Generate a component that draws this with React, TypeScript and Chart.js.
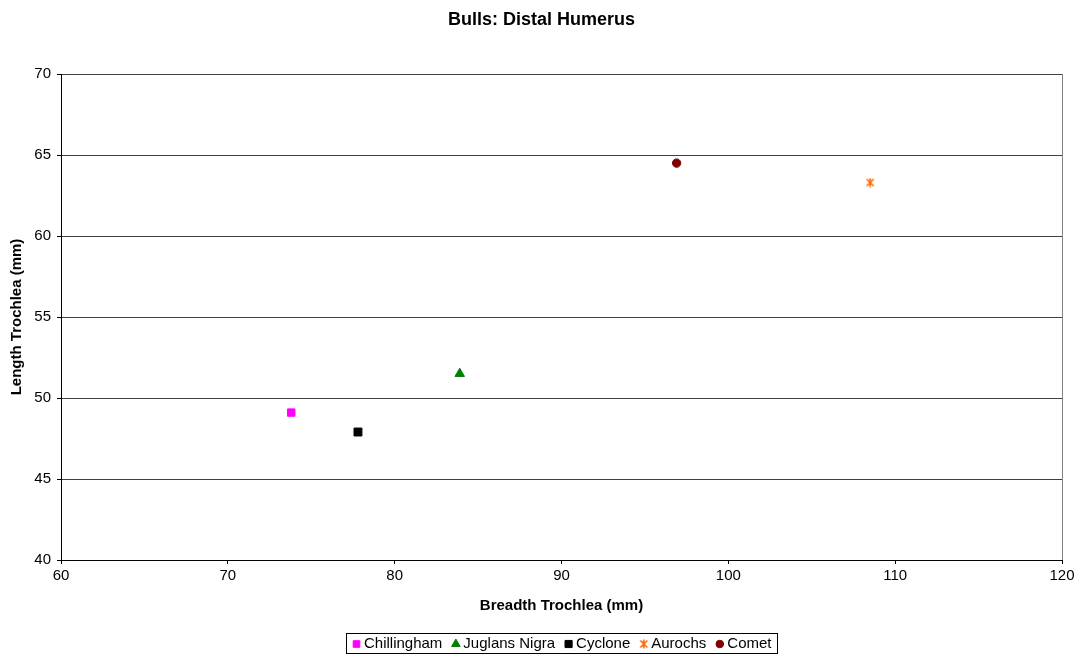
import React, { useEffect, useRef } from 'react';
import { Chart, registerables } from 'chart.js';
import { drawPoint } from 'chart.js/helpers';

Chart.register(...registerables);

const chartTitle = 'Bulls: Distal Humerus';
const xAxisTitle = 'Breadth Trochlea (mm)';
const yAxisTitle = 'Length Trochlea (mm)';
const seriesNames = ['Chillingham', 'Juglans Nigra', 'Cyclone', 'Aurochs', 'Comet'];
const breadthValues = [73.8, 83.9, 77.8, 108.5, 96.9];
const lengthValues = [49.1, 51.5, 47.9, 63.3, 64.5];
const seriesColors = ['#FF00FF', '#008000', '#000000', '#FF6600', '#800000'];
const xTickRange = { min: 60, max: 120, step: 10 };
const yTickRange = { min: 40, max: 70, step: 5 };

const FONT = '"Liberation Sans", Arial, sans-serif';

function makeStar(color: string): HTMLCanvasElement {
  const c = document.createElement('canvas');
  c.width = 10;
  c.height = 10;
  const g = c.getContext('2d')!;
  g.strokeStyle = color;
  g.lineWidth = 1.6;
  g.beginPath();
  g.moveTo(1.5, 1.5);
  g.lineTo(8.5, 8.5);
  g.moveTo(8.5, 1.5);
  g.lineTo(1.5, 8.5);
  g.moveTo(5, 0.5);
  g.lineTo(5, 9.5);
  g.stroke();
  return c;
}

export default function App() {
  const ref = useRef<HTMLCanvasElement | null>(null);

  useEffect(() => {
    if (!ref.current) return;
    const star = makeStar(seriesColors[3]);
    const styles: any[] = ['rect', 'triangle', 'rect', star, 'circle'];
    const radii = [5.2, 5.5, 5.6, 5, 4.2];

    const datasets = seriesNames.map((name, i) => ({
      label: name,
      data: [{ x: breadthValues[i], y: lengthValues[i] }],
      backgroundColor: seriesColors[i],
      borderColor: seriesColors[i],
      borderWidth: 1,
      pointStyle: styles[i],
      pointRadius: radii[i],
      showLine: false,
    }));

    const framePlugin = {
      id: 'frameTitleLegend',
      afterDraw(chart: any) {
        const { ctx, chartArea } = chart;
        ctx.save();
        // right border of plot area
        ctx.strokeStyle = '#808080';
        ctx.lineWidth = 1;
        ctx.beginPath();
        ctx.moveTo(Math.round(chartArea.right) + 0.5, Math.round(chartArea.top));
        ctx.lineTo(Math.round(chartArea.right) + 0.5, Math.round(chartArea.bottom));
        ctx.stroke();

        // chart title
        ctx.font = 'bold 18px ' + FONT;
        ctx.fillStyle = '#000';
        ctx.textAlign = 'center';
        ctx.textBaseline = 'middle';
        ctx.fillText(chartTitle, chart.width / 2, 20);

        // legend
        ctx.font = '15px ' + FONT;
        const markerW = 9;
        const gapText = 3;
        const gapItem = 9;
        const padX = 6;
        const widths = seriesNames.map((n) => ctx.measureText(n).width);
        let total = padX * 2;
        widths.forEach((w, i) => {
          total += markerW + gapText + w + (i < widths.length - 1 ? gapItem : 0);
        });
        const cx = (chartArea.left + chartArea.right) / 2;
        const left = Math.round(cx - total / 2);
        const top = 633;
        const h = 20;
        ctx.strokeStyle = '#000';
        ctx.strokeRect(left + 0.5, top + 0.5, Math.round(total), h);
        let x = left + padX;
        const yMid = top + h / 2 + 1;
        ctx.textBaseline = 'middle';
        ctx.textAlign = 'left';
        seriesNames.forEach((n, i) => {
          ctx.fillStyle = seriesColors[i];
          ctx.strokeStyle = seriesColors[i];
          ctx.lineWidth = 1;
          drawPoint(ctx, { pointStyle: styles[i], radius: radii[i] * 0.9, borderWidth: 1, rotation: 0 } as any, x + markerW / 2, yMid);
          x += markerW + gapText;
          ctx.fillStyle = '#000';
          ctx.fillText(n, x, yMid);
          x += widths[i] + gapItem;
        });
        ctx.restore();
      },
    };

    const chart = new Chart(ref.current, {
      type: 'scatter',
      data: { datasets },
      plugins: [framePlugin],
      options: {
        responsive: false,
        animation: false,
        devicePixelRatio: 1,
        layout: { padding: { left: 0, right: 21, top: 74, bottom: 34 } },
        plugins: {
          legend: { display: false },
          tooltip: { enabled: false },
          title: { display: false },
        },
        scales: {
          x: {
            type: 'linear',
            min: xTickRange.min,
            max: xTickRange.max,
            afterFit(scale: any) {
              scale.height = 60;
            },
            ticks: {
              stepSize: xTickRange.step,
              color: '#000',
              font: { family: FONT, size: 15 },
              padding: 3,
            },
            grid: {
              display: true,
              drawOnChartArea: false,
              tickLength: 4,
              tickColor: '#000',
              color: '#000',
            },
            border: { display: true, color: '#000', width: 1 },
            title: {
              display: true,
              text: xAxisTitle,
              color: '#000',
              font: { family: FONT, size: 15, weight: 'bold' },
              padding: { top: 0, bottom: 5 },
            },
          },
          y: {
            type: 'linear',
            min: yTickRange.min,
            max: yTickRange.max,
            afterFit(scale: any) {
              scale.width = 61;
            },
            ticks: {
              stepSize: yTickRange.step,
              color: '#000',
              font: { family: FONT, size: 15 },
              padding: 6,
            },
            grid: {
              display: true,
              color: '#404040',
              tickColor: '#000',
              tickLength: 4,
              lineWidth: 1,
            },
            border: { display: true, color: '#000', width: 1 },
            title: {
              display: true,
              text: yAxisTitle,
              color: '#000',
              font: { family: FONT, size: 15, weight: 'bold' },
              padding: { top: 8, bottom: 0 },
            },
          },
        },
      } as any,
    });
    return () => chart.destroy();
  }, []);

  return (
    <div style={{ position: 'absolute', left: 0, top: 0, width: 1083, height: 654, background: '#fff' }}>
      <canvas ref={ref} width={1083} height={654} style={{ display: 'block' }} />
    </div>
  );
}
